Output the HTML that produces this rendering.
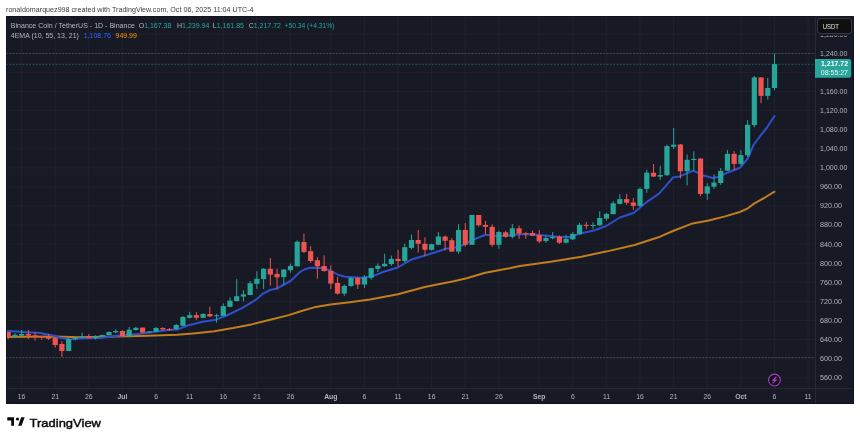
<!DOCTYPE html>
<html><head><meta charset="utf-8"><style>
html,body{margin:0;padding:0;background:#fff;width:860px;height:440px;overflow:hidden;position:relative}
svg{will-change:transform}
</style></head><body>
<svg width="860" height="440" viewBox="0 0 860 440" style="position:absolute;left:0;top:0"><text x="6" y="11.5" font-family="Liberation Sans, sans-serif" font-size="7.2" textLength="247.6" lengthAdjust="spacingAndGlyphs" fill="#3c3c3c">ronaldomarquez998 created with TradingView.com, Oct 06, 2025 11:04 UTC-4</text><rect x="6" y="16" width="848" height="388" fill="#171a25"/><clipPath id="cc"><rect x="6" y="16" width="809.5" height="372.5"/></clipPath><g clip-path="url(#cc)"><line x1="21.50" y1="16" x2="21.50" y2="388.5" stroke="#1e212c" stroke-width="1.2"/><line x1="55.11" y1="16" x2="55.11" y2="388.5" stroke="#1e212c" stroke-width="1.2"/><line x1="88.72" y1="16" x2="88.72" y2="388.5" stroke="#1e212c" stroke-width="1.2"/><line x1="122.33" y1="16" x2="122.33" y2="388.5" stroke="#1e212c" stroke-width="1.2"/><line x1="155.95" y1="16" x2="155.95" y2="388.5" stroke="#1e212c" stroke-width="1.2"/><line x1="189.56" y1="16" x2="189.56" y2="388.5" stroke="#1e212c" stroke-width="1.2"/><line x1="223.17" y1="16" x2="223.17" y2="388.5" stroke="#1e212c" stroke-width="1.2"/><line x1="256.78" y1="16" x2="256.78" y2="388.5" stroke="#1e212c" stroke-width="1.2"/><line x1="290.39" y1="16" x2="290.39" y2="388.5" stroke="#1e212c" stroke-width="1.2"/><line x1="330.73" y1="16" x2="330.73" y2="388.5" stroke="#1e212c" stroke-width="1.2"/><line x1="364.34" y1="16" x2="364.34" y2="388.5" stroke="#1e212c" stroke-width="1.2"/><line x1="397.95" y1="16" x2="397.95" y2="388.5" stroke="#1e212c" stroke-width="1.2"/><line x1="431.56" y1="16" x2="431.56" y2="388.5" stroke="#1e212c" stroke-width="1.2"/><line x1="465.17" y1="16" x2="465.17" y2="388.5" stroke="#1e212c" stroke-width="1.2"/><line x1="498.78" y1="16" x2="498.78" y2="388.5" stroke="#1e212c" stroke-width="1.2"/><line x1="539.12" y1="16" x2="539.12" y2="388.5" stroke="#1e212c" stroke-width="1.2"/><line x1="572.73" y1="16" x2="572.73" y2="388.5" stroke="#1e212c" stroke-width="1.2"/><line x1="606.34" y1="16" x2="606.34" y2="388.5" stroke="#1e212c" stroke-width="1.2"/><line x1="639.95" y1="16" x2="639.95" y2="388.5" stroke="#1e212c" stroke-width="1.2"/><line x1="673.56" y1="16" x2="673.56" y2="388.5" stroke="#1e212c" stroke-width="1.2"/><line x1="707.17" y1="16" x2="707.17" y2="388.5" stroke="#1e212c" stroke-width="1.2"/><line x1="740.79" y1="16" x2="740.79" y2="388.5" stroke="#1e212c" stroke-width="1.2"/><line x1="774.40" y1="16" x2="774.40" y2="388.5" stroke="#1e212c" stroke-width="1.2"/><line x1="808.01" y1="16" x2="808.01" y2="388.5" stroke="#1e212c" stroke-width="1.2"/><line x1="6" y1="34.32" x2="815.5" y2="34.32" stroke="#1e212c" stroke-width="1"/><line x1="6" y1="53.40" x2="815.5" y2="53.40" stroke="#1e212c" stroke-width="1"/><line x1="6" y1="72.48" x2="815.5" y2="72.48" stroke="#1e212c" stroke-width="1"/><line x1="6" y1="91.56" x2="815.5" y2="91.56" stroke="#1e212c" stroke-width="1"/><line x1="6" y1="110.64" x2="815.5" y2="110.64" stroke="#1e212c" stroke-width="1"/><line x1="6" y1="129.72" x2="815.5" y2="129.72" stroke="#1e212c" stroke-width="1"/><line x1="6" y1="148.80" x2="815.5" y2="148.80" stroke="#1e212c" stroke-width="1"/><line x1="6" y1="167.88" x2="815.5" y2="167.88" stroke="#1e212c" stroke-width="1"/><line x1="6" y1="186.96" x2="815.5" y2="186.96" stroke="#1e212c" stroke-width="1"/><line x1="6" y1="206.04" x2="815.5" y2="206.04" stroke="#1e212c" stroke-width="1"/><line x1="6" y1="225.12" x2="815.5" y2="225.12" stroke="#1e212c" stroke-width="1"/><line x1="6" y1="244.20" x2="815.5" y2="244.20" stroke="#1e212c" stroke-width="1"/><line x1="6" y1="263.28" x2="815.5" y2="263.28" stroke="#1e212c" stroke-width="1"/><line x1="6" y1="282.36" x2="815.5" y2="282.36" stroke="#1e212c" stroke-width="1"/><line x1="6" y1="301.44" x2="815.5" y2="301.44" stroke="#1e212c" stroke-width="1"/><line x1="6" y1="320.52" x2="815.5" y2="320.52" stroke="#1e212c" stroke-width="1"/><line x1="6" y1="339.60" x2="815.5" y2="339.60" stroke="#1e212c" stroke-width="1"/><line x1="6" y1="358.68" x2="815.5" y2="358.68" stroke="#1e212c" stroke-width="1"/><line x1="6" y1="377.76" x2="815.5" y2="377.76" stroke="#1e212c" stroke-width="1"/><line x1="6" y1="396.84" x2="815.5" y2="396.84" stroke="#1e212c" stroke-width="1"/><line x1="6" y1="53.5" x2="815.5" y2="53.5" stroke="#434752" stroke-width="1" stroke-dasharray="2 1.3"/><line x1="6" y1="357.6" x2="815.5" y2="357.6" stroke="#434752" stroke-width="1" stroke-dasharray="2 1.3"/><path d="M6.0,336.9 L54.0,336.6 L80.0,337.2 L140.0,336.1 L177.2,334.7 L195.8,333.2 L214.4,331.3 L233.0,328.1 L251.6,324.4 L270.2,319.8 L288.8,315.1 L300.0,311.5 L315.7,306.9 L330.5,304.6 L349.8,302.3 L370.0,299.6 L397.9,294.3 L425.8,286.8 L453.7,281.3 L466.7,278.3 L485.3,272.7 L509.5,268.2 L520.0,266.0 L550.7,261.8 L581.4,256.7 L606.0,251.6 L634.6,245.0 L660.0,236.7 L673.0,231.0 L692.6,223.4 L708.8,220.5 L725.1,216.4 L739.8,212.0 L747.9,208.3 L754.4,203.4 L764.2,198.0 L774.5,191.7" fill="none" stroke="#c27d1d" stroke-width="2" stroke-linejoin="round" stroke-linecap="round"/><path d="M6.0,330.8 L20.0,331.7 L40.0,333.1 L54.0,335.7 L60.0,337.8 L70.0,339.4 L80.0,338.6 L100.0,338.0 L120.0,335.6 L140.0,333.7 L168.7,330.0 L177.2,329.6 L188.4,325.3 L202.8,321.8 L214.4,320.1 L225.6,316.0 L242.5,307.8 L255.3,300.2 L263.2,293.6 L270.2,290.0 L276.8,288.5 L290.5,281.0 L300.0,272.0 L304.4,269.5 L310.0,267.8 L321.4,268.0 L330.5,270.5 L338.5,275.0 L345.3,276.8 L361.0,277.7 L373.0,276.2 L383.0,272.0 L397.8,267.5 L411.5,259.5 L425.0,255.5 L434.0,252.7 L446.0,248.7 L454.8,247.6 L462.7,245.3 L469.5,241.4 L477.5,238.0 L485.5,234.8 L496.8,235.9 L508.2,235.5 L520.0,234.3 L528.8,234.2 L542.4,235.3 L559.5,237.0 L569.7,237.0 L580.0,233.6 L594.0,230.5 L606.2,226.0 L619.8,217.5 L633.5,213.0 L647.0,201.8 L659.0,193.6 L668.0,183.4 L673.0,177.5 L679.8,176.4 L693.4,170.7 L702.5,175.2 L712.7,178.0 L720.0,176.6 L725.4,173.5 L740.0,167.8 L748.0,158.2 L753.8,144.5 L767.4,126.8 L774.5,116.0" fill="none" stroke="#2d50cc" stroke-width="2" stroke-linejoin="round" stroke-linecap="round"/><rect x="7.66" y="332.00" width="1" height="7.40" fill="#ef5350"/><rect x="5.56" y="332.00" width="5.2" height="4.90" fill="#ef5350"/><rect x="14.38" y="333.10" width="1" height="4.70" fill="#26a69a"/><rect x="12.28" y="334.80" width="5.2" height="2.10" fill="#26a69a"/><rect x="21.10" y="329.90" width="1" height="6.10" fill="#26a69a"/><rect x="19.00" y="334.00" width="5.2" height="1.70" fill="#26a69a"/><rect x="27.82" y="329.90" width="1" height="9.10" fill="#ef5350"/><rect x="25.72" y="333.90" width="5.2" height="1.80" fill="#ef5350"/><rect x="34.54" y="332.20" width="1" height="8.10" fill="#ef5350"/><rect x="32.44" y="335.30" width="5.2" height="1.70" fill="#ef5350"/><rect x="41.27" y="336.00" width="1" height="3.70" fill="#ef5350"/><rect x="39.17" y="336.20" width="5.2" height="1.00" fill="#ef5350"/><rect x="47.99" y="333.90" width="1" height="6.00" fill="#ef5350"/><rect x="45.89" y="336.90" width="5.2" height="1.80" fill="#ef5350"/><rect x="54.71" y="336.90" width="1" height="10.70" fill="#ef5350"/><rect x="52.61" y="338.00" width="5.2" height="7.00" fill="#ef5350"/><rect x="61.43" y="341.20" width="1" height="15.80" fill="#ef5350"/><rect x="59.33" y="344.00" width="5.2" height="7.00" fill="#ef5350"/><rect x="68.16" y="337.80" width="1" height="13.20" fill="#26a69a"/><rect x="66.06" y="339.00" width="5.2" height="12.00" fill="#26a69a"/><rect x="74.88" y="337.00" width="1" height="3.30" fill="#26a69a"/><rect x="72.78" y="337.60" width="5.2" height="1.40" fill="#26a69a"/><rect x="81.60" y="332.70" width="1" height="5.30" fill="#26a69a"/><rect x="79.50" y="336.30" width="5.2" height="1.40" fill="#26a69a"/><rect x="88.32" y="334.00" width="1" height="4.50" fill="#ef5350"/><rect x="86.22" y="336.30" width="5.2" height="1.90" fill="#ef5350"/><rect x="95.05" y="335.20" width="1" height="4.20" fill="#26a69a"/><rect x="92.95" y="336.20" width="5.2" height="2.00" fill="#26a69a"/><rect x="101.77" y="334.60" width="1" height="2.00" fill="#26a69a"/><rect x="99.67" y="335.00" width="5.2" height="1.30" fill="#26a69a"/><rect x="108.49" y="331.50" width="1" height="3.70" fill="#26a69a"/><rect x="106.39" y="332.00" width="5.2" height="3.00" fill="#26a69a"/><rect x="115.21" y="329.20" width="1" height="4.20" fill="#26a69a"/><rect x="113.11" y="331.00" width="5.2" height="1.30" fill="#26a69a"/><rect x="121.93" y="330.10" width="1" height="6.10" fill="#ef5350"/><rect x="119.83" y="331.00" width="5.2" height="5.20" fill="#ef5350"/><rect x="128.66" y="327.00" width="1" height="10.10" fill="#26a69a"/><rect x="126.56" y="329.70" width="5.2" height="6.60" fill="#26a69a"/><rect x="135.38" y="326.90" width="1" height="3.70" fill="#26a69a"/><rect x="133.28" y="327.80" width="5.2" height="2.20" fill="#26a69a"/><rect x="142.10" y="327.30" width="1" height="6.50" fill="#ef5350"/><rect x="140.00" y="327.60" width="5.2" height="5.00" fill="#ef5350"/><rect x="148.82" y="331.00" width="1" height="2.00" fill="#26a69a"/><rect x="146.72" y="331.50" width="5.2" height="1.10" fill="#26a69a"/><rect x="155.55" y="327.00" width="1" height="5.00" fill="#26a69a"/><rect x="153.45" y="328.00" width="5.2" height="3.80" fill="#26a69a"/><rect x="162.27" y="327.00" width="1" height="3.70" fill="#ef5350"/><rect x="160.17" y="328.00" width="5.2" height="1.50" fill="#ef5350"/><rect x="168.99" y="328.00" width="1" height="3.00" fill="#ef5350"/><rect x="166.89" y="329.00" width="5.2" height="1.00" fill="#ef5350"/><rect x="175.71" y="323.90" width="1" height="5.90" fill="#26a69a"/><rect x="173.61" y="325.00" width="5.2" height="4.20" fill="#26a69a"/><rect x="182.44" y="315.90" width="1" height="10.50" fill="#26a69a"/><rect x="180.34" y="317.00" width="5.2" height="8.80" fill="#26a69a"/><rect x="189.16" y="311.80" width="1" height="6.60" fill="#26a69a"/><rect x="187.06" y="315.20" width="5.2" height="2.60" fill="#26a69a"/><rect x="195.88" y="312.20" width="1" height="7.60" fill="#ef5350"/><rect x="193.78" y="315.20" width="5.2" height="2.60" fill="#ef5350"/><rect x="202.60" y="313.30" width="1" height="4.90" fill="#26a69a"/><rect x="200.50" y="314.00" width="5.2" height="3.80" fill="#26a69a"/><rect x="209.32" y="306.80" width="1" height="10.20" fill="#ef5350"/><rect x="207.22" y="314.00" width="5.2" height="2.40" fill="#ef5350"/><rect x="216.05" y="313.90" width="1" height="8.80" fill="#26a69a"/><rect x="213.95" y="315.20" width="5.2" height="1.00" fill="#26a69a"/><rect x="222.77" y="303.40" width="1" height="13.00" fill="#26a69a"/><rect x="220.67" y="306.10" width="5.2" height="9.80" fill="#26a69a"/><rect x="229.49" y="297.30" width="1" height="9.90" fill="#26a69a"/><rect x="227.39" y="300.70" width="5.2" height="6.20" fill="#26a69a"/><rect x="236.21" y="279.10" width="1" height="22.40" fill="#26a69a"/><rect x="234.11" y="296.20" width="5.2" height="4.80" fill="#26a69a"/><rect x="242.94" y="290.20" width="1" height="11.30" fill="#26a69a"/><rect x="240.84" y="294.40" width="5.2" height="2.20" fill="#26a69a"/><rect x="249.66" y="281.00" width="1" height="14.30" fill="#26a69a"/><rect x="247.56" y="283.30" width="5.2" height="11.70" fill="#26a69a"/><rect x="256.38" y="271.20" width="1" height="17.80" fill="#26a69a"/><rect x="254.28" y="278.80" width="5.2" height="5.10" fill="#26a69a"/><rect x="263.10" y="268.20" width="1" height="20.80" fill="#26a69a"/><rect x="261.00" y="268.75" width="5.2" height="10.35" fill="#26a69a"/><rect x="269.83" y="258.00" width="1" height="27.60" fill="#ef5350"/><rect x="267.73" y="268.75" width="5.2" height="5.85" fill="#ef5350"/><rect x="276.55" y="268.75" width="1" height="20.85" fill="#ef5350"/><rect x="274.45" y="273.90" width="5.2" height="3.40" fill="#ef5350"/><rect x="283.27" y="269.00" width="1" height="16.00" fill="#26a69a"/><rect x="281.17" y="269.50" width="5.2" height="7.60" fill="#26a69a"/><rect x="289.99" y="263.60" width="1" height="9.10" fill="#26a69a"/><rect x="287.89" y="265.90" width="5.2" height="4.30" fill="#26a69a"/><rect x="296.71" y="240.30" width="1" height="26.20" fill="#26a69a"/><rect x="294.61" y="241.80" width="5.2" height="24.50" fill="#26a69a"/><rect x="303.44" y="233.70" width="1" height="19.30" fill="#ef5350"/><rect x="301.34" y="242.00" width="5.2" height="9.90" fill="#ef5350"/><rect x="310.16" y="246.20" width="1" height="16.50" fill="#ef5350"/><rect x="308.06" y="251.10" width="5.2" height="9.90" fill="#ef5350"/><rect x="316.88" y="257.20" width="1" height="21.50" fill="#ef5350"/><rect x="314.78" y="260.20" width="5.2" height="6.00" fill="#ef5350"/><rect x="323.60" y="255.30" width="1" height="16.20" fill="#ef5350"/><rect x="321.50" y="266.00" width="5.2" height="5.10" fill="#ef5350"/><rect x="330.33" y="265.20" width="1" height="23.80" fill="#ef5350"/><rect x="328.23" y="270.90" width="5.2" height="12.70" fill="#ef5350"/><rect x="337.05" y="276.80" width="1" height="17.90" fill="#ef5350"/><rect x="334.95" y="283.00" width="5.2" height="10.60" fill="#ef5350"/><rect x="343.77" y="284.50" width="1" height="11.40" fill="#26a69a"/><rect x="341.67" y="285.90" width="5.2" height="7.70" fill="#26a69a"/><rect x="350.49" y="277.30" width="1" height="9.20" fill="#26a69a"/><rect x="348.39" y="277.90" width="5.2" height="8.20" fill="#26a69a"/><rect x="357.22" y="276.80" width="1" height="12.20" fill="#ef5350"/><rect x="355.12" y="277.90" width="5.2" height="6.60" fill="#ef5350"/><rect x="363.94" y="275.00" width="1" height="12.90" fill="#26a69a"/><rect x="361.84" y="277.30" width="5.2" height="7.20" fill="#26a69a"/><rect x="370.66" y="267.70" width="1" height="11.90" fill="#26a69a"/><rect x="368.56" y="268.10" width="5.2" height="9.60" fill="#26a69a"/><rect x="377.38" y="263.50" width="1" height="8.50" fill="#26a69a"/><rect x="375.28" y="265.80" width="5.2" height="3.00" fill="#26a69a"/><rect x="384.10" y="253.80" width="1" height="13.00" fill="#26a69a"/><rect x="382.00" y="263.80" width="5.2" height="2.50" fill="#26a69a"/><rect x="390.83" y="255.50" width="1" height="10.30" fill="#26a69a"/><rect x="388.73" y="258.90" width="5.2" height="5.10" fill="#26a69a"/><rect x="397.55" y="249.80" width="1" height="16.50" fill="#ef5350"/><rect x="395.45" y="258.90" width="5.2" height="2.10" fill="#ef5350"/><rect x="404.27" y="243.60" width="1" height="19.30" fill="#26a69a"/><rect x="402.17" y="247.20" width="5.2" height="13.70" fill="#26a69a"/><rect x="410.99" y="234.50" width="1" height="14.80" fill="#26a69a"/><rect x="408.89" y="240.00" width="5.2" height="7.90" fill="#26a69a"/><rect x="417.72" y="230.00" width="1" height="22.70" fill="#ef5350"/><rect x="415.62" y="240.00" width="5.2" height="3.80" fill="#ef5350"/><rect x="424.44" y="237.30" width="1" height="18.80" fill="#ef5350"/><rect x="422.34" y="243.80" width="5.2" height="6.00" fill="#ef5350"/><rect x="431.16" y="243.60" width="1" height="7.20" fill="#26a69a"/><rect x="429.06" y="244.20" width="5.2" height="5.60" fill="#26a69a"/><rect x="437.88" y="232.00" width="1" height="13.30" fill="#26a69a"/><rect x="435.78" y="236.50" width="5.2" height="8.20" fill="#26a69a"/><rect x="444.60" y="235.40" width="1" height="15.10" fill="#ef5350"/><rect x="442.50" y="236.60" width="5.2" height="4.20" fill="#ef5350"/><rect x="451.33" y="238.00" width="1" height="14.00" fill="#ef5350"/><rect x="449.23" y="240.20" width="5.2" height="11.40" fill="#ef5350"/><rect x="458.05" y="224.10" width="1" height="29.80" fill="#26a69a"/><rect x="455.95" y="230.00" width="5.2" height="21.60" fill="#26a69a"/><rect x="464.77" y="223.00" width="1" height="23.50" fill="#ef5350"/><rect x="462.67" y="230.00" width="5.2" height="14.80" fill="#ef5350"/><rect x="471.49" y="214.70" width="1" height="30.30" fill="#26a69a"/><rect x="469.39" y="215.00" width="5.2" height="29.80" fill="#26a69a"/><rect x="478.22" y="215.00" width="1" height="11.60" fill="#ef5350"/><rect x="476.12" y="215.00" width="5.2" height="10.20" fill="#ef5350"/><rect x="484.94" y="220.90" width="1" height="13.60" fill="#ef5350"/><rect x="482.84" y="224.90" width="5.2" height="1.90" fill="#ef5350"/><rect x="491.66" y="224.30" width="1" height="22.50" fill="#ef5350"/><rect x="489.56" y="226.80" width="5.2" height="18.00" fill="#ef5350"/><rect x="498.38" y="230.60" width="1" height="18.20" fill="#26a69a"/><rect x="496.28" y="232.00" width="5.2" height="12.80" fill="#26a69a"/><rect x="505.11" y="230.90" width="1" height="6.80" fill="#ef5350"/><rect x="503.01" y="232.30" width="5.2" height="4.50" fill="#ef5350"/><rect x="511.83" y="224.10" width="1" height="14.40" fill="#26a69a"/><rect x="509.73" y="228.30" width="5.2" height="8.50" fill="#26a69a"/><rect x="518.55" y="225.50" width="1" height="13.30" fill="#ef5350"/><rect x="516.45" y="228.30" width="5.2" height="5.30" fill="#ef5350"/><rect x="525.27" y="231.90" width="1" height="6.90" fill="#ef5350"/><rect x="523.17" y="233.40" width="5.2" height="1.00" fill="#ef5350"/><rect x="531.99" y="230.50" width="1" height="5.40" fill="#ef5350"/><rect x="529.89" y="233.00" width="5.2" height="2.70" fill="#ef5350"/><rect x="538.72" y="230.00" width="1" height="13.30" fill="#ef5350"/><rect x="536.62" y="235.00" width="5.2" height="6.40" fill="#ef5350"/><rect x="545.44" y="235.30" width="1" height="7.40" fill="#26a69a"/><rect x="543.34" y="238.00" width="5.2" height="3.00" fill="#26a69a"/><rect x="552.16" y="232.00" width="1" height="7.30" fill="#26a69a"/><rect x="550.06" y="236.80" width="5.2" height="1.40" fill="#26a69a"/><rect x="558.88" y="235.30" width="1" height="8.70" fill="#ef5350"/><rect x="556.78" y="236.50" width="5.2" height="6.20" fill="#ef5350"/><rect x="565.61" y="234.80" width="1" height="8.70" fill="#26a69a"/><rect x="563.51" y="238.80" width="5.2" height="3.90" fill="#26a69a"/><rect x="572.33" y="232.00" width="1" height="8.00" fill="#26a69a"/><rect x="570.23" y="233.90" width="5.2" height="5.40" fill="#26a69a"/><rect x="579.05" y="222.80" width="1" height="12.00" fill="#26a69a"/><rect x="576.95" y="224.80" width="5.2" height="9.40" fill="#26a69a"/><rect x="585.77" y="222.00" width="1" height="7.10" fill="#ef5350"/><rect x="583.67" y="224.80" width="5.2" height="1.10" fill="#ef5350"/><rect x="592.50" y="222.30" width="1" height="6.60" fill="#26a69a"/><rect x="590.40" y="224.90" width="5.2" height="1.10" fill="#26a69a"/><rect x="599.22" y="211.30" width="1" height="14.70" fill="#26a69a"/><rect x="597.12" y="218.00" width="5.2" height="7.20" fill="#26a69a"/><rect x="605.94" y="213.00" width="1" height="7.70" fill="#26a69a"/><rect x="603.84" y="213.90" width="5.2" height="4.70" fill="#26a69a"/><rect x="612.66" y="201.00" width="1" height="13.60" fill="#26a69a"/><rect x="610.56" y="203.30" width="5.2" height="10.80" fill="#26a69a"/><rect x="619.38" y="194.20" width="1" height="10.20" fill="#26a69a"/><rect x="617.28" y="199.10" width="5.2" height="4.80" fill="#26a69a"/><rect x="626.11" y="193.90" width="1" height="10.90" fill="#ef5350"/><rect x="624.01" y="199.10" width="5.2" height="3.60" fill="#ef5350"/><rect x="632.83" y="198.00" width="1" height="11.80" fill="#ef5350"/><rect x="630.73" y="202.50" width="5.2" height="3.40" fill="#ef5350"/><rect x="639.55" y="187.40" width="1" height="19.60" fill="#26a69a"/><rect x="637.45" y="188.90" width="5.2" height="17.00" fill="#26a69a"/><rect x="646.27" y="169.70" width="1" height="23.10" fill="#26a69a"/><rect x="644.17" y="172.70" width="5.2" height="16.20" fill="#26a69a"/><rect x="653.00" y="164.00" width="1" height="13.00" fill="#ef5350"/><rect x="650.90" y="172.70" width="5.2" height="3.90" fill="#ef5350"/><rect x="659.72" y="165.75" width="1" height="14.05" fill="#26a69a"/><rect x="657.62" y="175.00" width="5.2" height="1.60" fill="#26a69a"/><rect x="666.44" y="144.70" width="1" height="31.10" fill="#26a69a"/><rect x="664.34" y="146.10" width="5.2" height="29.10" fill="#26a69a"/><rect x="673.16" y="127.90" width="1" height="21.10" fill="#26a69a"/><rect x="671.06" y="144.70" width="5.2" height="2.10" fill="#26a69a"/><rect x="679.89" y="144.00" width="1" height="34.60" fill="#ef5350"/><rect x="677.79" y="144.50" width="5.2" height="26.75" fill="#ef5350"/><rect x="686.61" y="154.40" width="1" height="31.10" fill="#26a69a"/><rect x="684.51" y="159.80" width="5.2" height="11.45" fill="#26a69a"/><rect x="693.33" y="151.30" width="1" height="19.40" fill="#26a69a"/><rect x="691.23" y="158.90" width="5.2" height="1.10" fill="#26a69a"/><rect x="700.05" y="158.00" width="1" height="38.25" fill="#ef5350"/><rect x="697.95" y="158.60" width="5.2" height="35.40" fill="#ef5350"/><rect x="706.77" y="183.20" width="1" height="16.50" fill="#26a69a"/><rect x="704.67" y="186.40" width="5.2" height="7.20" fill="#26a69a"/><rect x="713.50" y="174.30" width="1" height="14.60" fill="#26a69a"/><rect x="711.40" y="182.60" width="5.2" height="4.10" fill="#26a69a"/><rect x="720.22" y="168.00" width="1" height="16.90" fill="#26a69a"/><rect x="718.12" y="170.90" width="5.2" height="12.10" fill="#26a69a"/><rect x="726.94" y="150.00" width="1" height="21.00" fill="#26a69a"/><rect x="724.84" y="153.90" width="5.2" height="16.80" fill="#26a69a"/><rect x="733.66" y="151.10" width="1" height="19.40" fill="#ef5350"/><rect x="731.56" y="153.90" width="5.2" height="10.00" fill="#ef5350"/><rect x="740.39" y="150.00" width="1" height="15.60" fill="#26a69a"/><rect x="738.29" y="155.00" width="5.2" height="8.90" fill="#26a69a"/><rect x="747.11" y="120.20" width="1" height="36.80" fill="#26a69a"/><rect x="745.01" y="124.80" width="5.2" height="30.50" fill="#26a69a"/><rect x="753.83" y="75.90" width="1" height="51.50" fill="#26a69a"/><rect x="751.73" y="77.40" width="5.2" height="47.70" fill="#26a69a"/><rect x="760.55" y="77.00" width="1" height="26.20" fill="#ef5350"/><rect x="758.45" y="77.40" width="5.2" height="18.50" fill="#ef5350"/><rect x="767.28" y="78.00" width="1" height="21.50" fill="#26a69a"/><rect x="765.18" y="88.00" width="5.2" height="7.90" fill="#26a69a"/><rect x="774.00" y="53.50" width="1" height="36.70" fill="#26a69a"/><rect x="771.90" y="64.10" width="5.2" height="23.90" fill="#26a69a"/><line x1="6" y1="64.3" x2="815.5" y2="64.3" stroke="#26a69a" stroke-opacity="0.42" stroke-width="1" stroke-dasharray="2 1.3"/></g><rect x="6.5" y="16.5" width="847" height="387" fill="none" stroke="#10131a" stroke-width="1"/><line x1="815.5" y1="17" x2="815.5" y2="403" stroke="#262a35" stroke-width="1"/><line x1="7" y1="388.5" x2="853" y2="388.5" stroke="#262a35" stroke-width="1"/><text x="820.1" y="36.62" font-family="Liberation Sans, sans-serif" font-size="7.9" textLength="27.3" lengthAdjust="spacingAndGlyphs" fill="#b2b5be">1,280.00</text><text x="820.1" y="55.70" font-family="Liberation Sans, sans-serif" font-size="7.9" textLength="27.3" lengthAdjust="spacingAndGlyphs" fill="#b2b5be">1,240.00</text><text x="820.1" y="74.78" font-family="Liberation Sans, sans-serif" font-size="7.9" textLength="27.3" lengthAdjust="spacingAndGlyphs" fill="#b2b5be">1,200.00</text><text x="820.1" y="93.86" font-family="Liberation Sans, sans-serif" font-size="7.9" textLength="27.3" lengthAdjust="spacingAndGlyphs" fill="#b2b5be">1,160.00</text><text x="820.1" y="112.94" font-family="Liberation Sans, sans-serif" font-size="7.9" textLength="27.3" lengthAdjust="spacingAndGlyphs" fill="#b2b5be">1,120.00</text><text x="820.1" y="132.02" font-family="Liberation Sans, sans-serif" font-size="7.9" textLength="27.3" lengthAdjust="spacingAndGlyphs" fill="#b2b5be">1,080.00</text><text x="820.1" y="151.10" font-family="Liberation Sans, sans-serif" font-size="7.9" textLength="27.3" lengthAdjust="spacingAndGlyphs" fill="#b2b5be">1,040.00</text><text x="820.1" y="170.18" font-family="Liberation Sans, sans-serif" font-size="7.9" textLength="27.3" lengthAdjust="spacingAndGlyphs" fill="#b2b5be">1,000.00</text><text x="820.1" y="189.26" font-family="Liberation Sans, sans-serif" font-size="7.9" textLength="21.9" lengthAdjust="spacingAndGlyphs" fill="#b2b5be">960.00</text><text x="820.1" y="208.34" font-family="Liberation Sans, sans-serif" font-size="7.9" textLength="21.9" lengthAdjust="spacingAndGlyphs" fill="#b2b5be">920.00</text><text x="820.1" y="227.42" font-family="Liberation Sans, sans-serif" font-size="7.9" textLength="21.9" lengthAdjust="spacingAndGlyphs" fill="#b2b5be">880.00</text><text x="820.1" y="246.50" font-family="Liberation Sans, sans-serif" font-size="7.9" textLength="21.9" lengthAdjust="spacingAndGlyphs" fill="#b2b5be">840.00</text><text x="820.1" y="265.58" font-family="Liberation Sans, sans-serif" font-size="7.9" textLength="21.9" lengthAdjust="spacingAndGlyphs" fill="#b2b5be">800.00</text><text x="820.1" y="284.66" font-family="Liberation Sans, sans-serif" font-size="7.9" textLength="21.9" lengthAdjust="spacingAndGlyphs" fill="#b2b5be">760.00</text><text x="820.1" y="303.74" font-family="Liberation Sans, sans-serif" font-size="7.9" textLength="21.9" lengthAdjust="spacingAndGlyphs" fill="#b2b5be">720.00</text><text x="820.1" y="322.82" font-family="Liberation Sans, sans-serif" font-size="7.9" textLength="21.9" lengthAdjust="spacingAndGlyphs" fill="#b2b5be">680.00</text><text x="820.1" y="341.90" font-family="Liberation Sans, sans-serif" font-size="7.9" textLength="21.9" lengthAdjust="spacingAndGlyphs" fill="#b2b5be">640.00</text><text x="820.1" y="360.98" font-family="Liberation Sans, sans-serif" font-size="7.9" textLength="21.9" lengthAdjust="spacingAndGlyphs" fill="#b2b5be">600.00</text><text x="820.1" y="380.06" font-family="Liberation Sans, sans-serif" font-size="7.9" textLength="21.9" lengthAdjust="spacingAndGlyphs" fill="#b2b5be">560.00</text><rect x="816" y="16" width="38" height="19.5" fill="#171a25"/><rect x="817.5" y="18.5" width="34" height="15" rx="2.5" fill="#0f0f0f" stroke="#363a45" stroke-width="1"/><text x="822.7" y="28.6" font-family="Liberation Sans, sans-serif" font-size="7.9" textLength="16.3" lengthAdjust="spacingAndGlyphs" fill="#dfe2ea">USDT</text><path d="M815,59 H849.2 Q851.2,59 851.2,61 V75.7 Q851.2,77.7 849.2,77.7 H815 Z" fill="#26a69a"/><text x="821" y="66" font-family="Liberation Sans, sans-serif" font-size="7" font-weight="bold" textLength="27" lengthAdjust="spacingAndGlyphs" fill="#fff">1,217.72</text><text x="820.8" y="74.7" font-family="Liberation Sans, sans-serif" font-size="7" textLength="27.2" lengthAdjust="spacingAndGlyphs" fill="#f0f0f0">08:55:27</text><text transform="translate(21.60,398.9) scale(0.9,1)" x="0" y="0" text-anchor="middle" font-family="Liberation Sans, sans-serif" font-size="7.6" fill="#b2b5be">16</text><text transform="translate(55.21,398.9) scale(0.9,1)" x="0" y="0" text-anchor="middle" font-family="Liberation Sans, sans-serif" font-size="7.6" fill="#b2b5be">21</text><text transform="translate(88.82,398.9) scale(0.9,1)" x="0" y="0" text-anchor="middle" font-family="Liberation Sans, sans-serif" font-size="7.6" fill="#b2b5be">26</text><text transform="translate(122.43,398.9) scale(0.9,1)" x="0" y="0" text-anchor="middle" font-family="Liberation Sans, sans-serif" font-size="7.6" font-weight="bold" fill="#b2b5be">Jul</text><text transform="translate(156.05,398.9) scale(0.9,1)" x="0" y="0" text-anchor="middle" font-family="Liberation Sans, sans-serif" font-size="7.6" fill="#b2b5be">6</text><text transform="translate(189.66,398.9) scale(0.9,1)" x="0" y="0" text-anchor="middle" font-family="Liberation Sans, sans-serif" font-size="7.6" fill="#b2b5be">11</text><text transform="translate(223.27,398.9) scale(0.9,1)" x="0" y="0" text-anchor="middle" font-family="Liberation Sans, sans-serif" font-size="7.6" fill="#b2b5be">16</text><text transform="translate(256.88,398.9) scale(0.9,1)" x="0" y="0" text-anchor="middle" font-family="Liberation Sans, sans-serif" font-size="7.6" fill="#b2b5be">21</text><text transform="translate(290.49,398.9) scale(0.9,1)" x="0" y="0" text-anchor="middle" font-family="Liberation Sans, sans-serif" font-size="7.6" fill="#b2b5be">26</text><text transform="translate(330.83,398.9) scale(0.9,1)" x="0" y="0" text-anchor="middle" font-family="Liberation Sans, sans-serif" font-size="7.6" font-weight="bold" fill="#b2b5be">Aug</text><text transform="translate(364.44,398.9) scale(0.9,1)" x="0" y="0" text-anchor="middle" font-family="Liberation Sans, sans-serif" font-size="7.6" fill="#b2b5be">6</text><text transform="translate(398.05,398.9) scale(0.9,1)" x="0" y="0" text-anchor="middle" font-family="Liberation Sans, sans-serif" font-size="7.6" fill="#b2b5be">11</text><text transform="translate(431.66,398.9) scale(0.9,1)" x="0" y="0" text-anchor="middle" font-family="Liberation Sans, sans-serif" font-size="7.6" fill="#b2b5be">16</text><text transform="translate(465.27,398.9) scale(0.9,1)" x="0" y="0" text-anchor="middle" font-family="Liberation Sans, sans-serif" font-size="7.6" fill="#b2b5be">21</text><text transform="translate(498.88,398.9) scale(0.9,1)" x="0" y="0" text-anchor="middle" font-family="Liberation Sans, sans-serif" font-size="7.6" fill="#b2b5be">26</text><text transform="translate(539.22,398.9) scale(0.9,1)" x="0" y="0" text-anchor="middle" font-family="Liberation Sans, sans-serif" font-size="7.6" font-weight="bold" fill="#b2b5be">Sep</text><text transform="translate(572.83,398.9) scale(0.9,1)" x="0" y="0" text-anchor="middle" font-family="Liberation Sans, sans-serif" font-size="7.6" fill="#b2b5be">6</text><text transform="translate(606.44,398.9) scale(0.9,1)" x="0" y="0" text-anchor="middle" font-family="Liberation Sans, sans-serif" font-size="7.6" fill="#b2b5be">11</text><text transform="translate(640.05,398.9) scale(0.9,1)" x="0" y="0" text-anchor="middle" font-family="Liberation Sans, sans-serif" font-size="7.6" fill="#b2b5be">16</text><text transform="translate(673.66,398.9) scale(0.9,1)" x="0" y="0" text-anchor="middle" font-family="Liberation Sans, sans-serif" font-size="7.6" fill="#b2b5be">21</text><text transform="translate(707.27,398.9) scale(0.9,1)" x="0" y="0" text-anchor="middle" font-family="Liberation Sans, sans-serif" font-size="7.6" fill="#b2b5be">26</text><text transform="translate(740.89,398.9) scale(0.9,1)" x="0" y="0" text-anchor="middle" font-family="Liberation Sans, sans-serif" font-size="7.6" font-weight="bold" fill="#b2b5be">Oct</text><text transform="translate(774.50,398.9) scale(0.9,1)" x="0" y="0" text-anchor="middle" font-family="Liberation Sans, sans-serif" font-size="7.6" fill="#b2b5be">6</text><text transform="translate(808.11,398.9) scale(0.9,1)" x="0" y="0" text-anchor="middle" font-family="Liberation Sans, sans-serif" font-size="7.6" fill="#b2b5be">11</text><text x="10.8" y="27.9" font-family="Liberation Sans, sans-serif" font-size="7" textLength="124.1" lengthAdjust="spacingAndGlyphs" fill="#b2b5be">Binance Coin / TetherUS - 1D - Binance</text><text x="138.7" y="27.9" font-family="Liberation Sans, sans-serif" font-size="7"><tspan fill="#b2b5be">O</tspan><tspan fill="#26a69a">1,167.38</tspan></text><text x="177" y="27.9" font-family="Liberation Sans, sans-serif" font-size="7"><tspan fill="#b2b5be">H</tspan><tspan fill="#26a69a">1,239.94</tspan></text><text x="212.8" y="27.9" font-family="Liberation Sans, sans-serif" font-size="7"><tspan fill="#b2b5be">L</tspan><tspan fill="#26a69a">1,161.85</tspan></text><text x="248.7" y="27.9" font-family="Liberation Sans, sans-serif" font-size="7"><tspan fill="#b2b5be">C</tspan><tspan fill="#26a69a">1,217.72</tspan></text><text x="284.5" y="27.9" font-family="Liberation Sans, sans-serif" font-size="7" textLength="50" lengthAdjust="spacingAndGlyphs" fill="#26a69a">+50.34 (+4.31%)</text><text x="10.8" y="37.7" font-family="Liberation Sans, sans-serif" font-size="7" fill="#b2b5be">4EMA (10, 55, 13, 21)</text><text x="83.7" y="37.7" font-family="Liberation Sans, sans-serif" font-size="7" fill="#2962ff">1,108.76</text><text x="115.5" y="37.7" font-family="Liberation Sans, sans-serif" font-size="7" fill="#ff9800">949.99</text><circle cx="774.45" cy="380" r="5.9" fill="#131313" stroke="#a23fc6" stroke-width="1.05"/><path d="M776.5,376.8 L773.1,380.2 H776 L772.6,383.4" fill="none" stroke="#a940cc" stroke-width="1.25" stroke-linejoin="miter"/><g fill="#0b0b0f"><path d="M7.3,417.3 H14 V425.7 H11.2 V420.6 H7.3 Z"/><circle cx="17.5" cy="419" r="1.6"/><path d="M21.2,417.3 H24.6 L21.6,425.7 H18.1 Z"/></g><text transform="translate(29.6,426.2) scale(1.1,1)" x="0" y="0.4" font-family="Liberation Sans, sans-serif" font-size="11.8" fill="#0b0b0f" stroke="#0b0b0f" stroke-width="0.45">TradingView</text></svg>
</body></html>
